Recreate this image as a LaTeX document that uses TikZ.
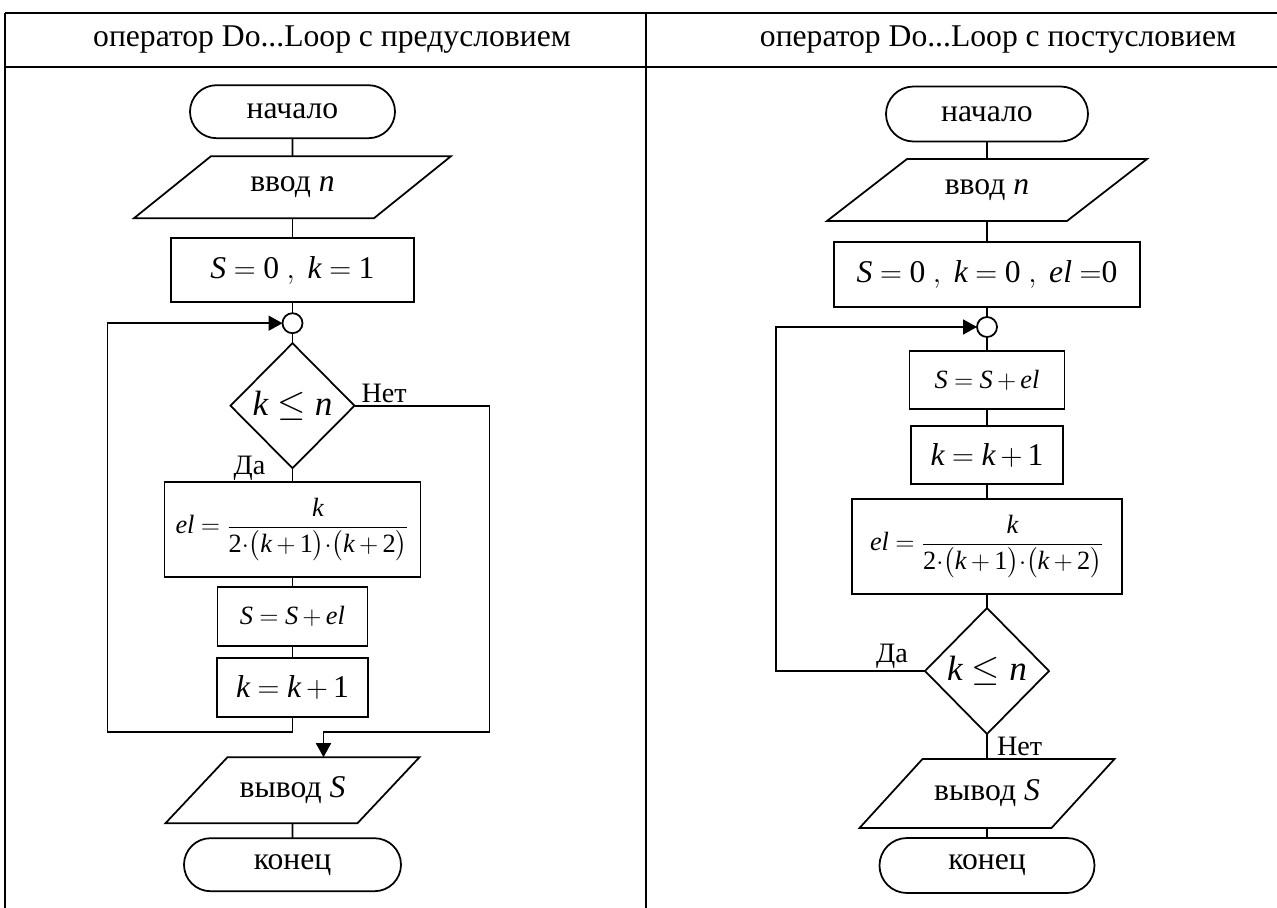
\documentclass[tikz,border=0pt]{standalone}
\usepackage{amsmath}
\usepackage{mathspec}
\setmainfont{Liberation Serif}
\setmathsfont(Digits,Latin)[Scale=1]{Liberation Serif}
\usetikzlibrary{arrows.meta,positioning,shapes.geometric,shapes.misc}
\medmuskip=3mu plus 1mu minus 1mu
\thickmuskip=4.5mu plus 2mu

\begin{document}
\begin{tikzpicture}[
    x=0.2mm, y=-0.2mm,
    font=\fontsize{18}{21}\selectfont,
    termbox/.style={rounded rectangle, draw, line width=1pt, minimum width=41mm, minimum height=10.6mm, inner sep=0pt, outer sep=0pt},
    iobox/.style={rectangle, minimum height=12.4mm, inner sep=0pt, outer sep=0pt},
    stepbox/.style={rectangle, draw, line width=1pt, inner sep=0pt, outer sep=0pt},
    condbox/.style={diamond, draw, line width=1pt, minimum width=24.8mm, minimum height=25mm, inner sep=0pt, outer sep=0pt, font=\fontsize{20}{23}\selectfont},
    joint/.style={circle, draw, line width=1pt, minimum size=4mm, inner sep=0pt, outer sep=0pt},
    lbl/.style={inner sep=1pt, font=\fontsize{16}{18}\selectfont},
    line/.style={line width=1pt},
    arrow/.style={line width=1pt, -{Triangle[length=2.8mm,width=3mm]}},
    tbl/.style={line width=0.7pt},
]
\useasboundingbox (0,0) rectangle (1277,908);

% Table
\draw[tbl] (5,13) -- (1277,13);
\draw[tbl] (5,67) -- (1277,67);
\draw[tbl] (5,13) -- (5,908);
\draw[tbl] (646,13) -- (646,908);
\node (head1) at (332,40) {оператор Do...Loop с предусловием};
\node (head2) at (998,40) {оператор Do...Loop с постусловием};

% Pre-condition loop
\node[termbox] (start1) at (292.5,111.7) {начало};
\node[iobox, minimum width=63.4mm, below=3.6mm of start1] (in1) {ввод $n$};
\node[stepbox, minimum width=48.6mm, minimum height=12.8mm, below=4mm of in1] (init1) {$S=0\;,\;k=1$};
\node[joint, below=2.2mm of init1] (join1) {};
\node[condbox, below=2mm of join1] (cond1) {$k\le n$};
\node[stepbox, minimum width=51.2mm, minimum height=19mm, below=2.8mm of cond1, font=\fontsize{15}{18}\selectfont] (el1) {$el=\dfrac{k}{2{\cdot}\bigl(k+1\bigr){\cdot}\bigl(k+2\bigr)}$};
\node[stepbox, minimum width=30mm, minimum height=11.8mm, below=2mm of el1, font=\fontsize{15}{18}\selectfont] (sum1) {$S=S+el$};
\node[stepbox, minimum width=30.2mm, minimum height=11.8mm, below=2.4mm of sum1] (inc1) {$k=k+1$};
\node[iobox, minimum width=50.8mm, minimum height=13.2mm, below=8mm of inc1] (out1) {вывод $S$};
\node[termbox, minimum width=43.4mm, below=3mm of out1] (end1) {конец};

% parallelogram frames
\draw[line] ([xshift=15.4mm]in1.north west) -- (in1.north east) -- ([xshift=-15.4mm]in1.south east) -- (in1.south west) -- cycle;
\draw[line] ([xshift=12.4mm]out1.north west) -- (out1.north east) -- ([xshift=-12.4mm]out1.south east) -- (out1.south west) -- cycle;

\coordinate (bot1) at ([yshift=-3mm]inc1.south);
\coordinate (lft1) at ([xshift=-35mm]join1.west);
\coordinate (out1top) at ([xshift=6.2mm]out1.north);

\draw[line] (start1) -- (in1);
\draw[line] (in1) -- (init1);
\draw[line] (init1) -- (join1);
\draw[line] (join1) -- (cond1);
\draw[line] (cond1) -- (el1);
\draw[line] (el1) -- (sum1);
\draw[line] (sum1) -- (inc1);
\draw[arrow] (inc1.south) -- (bot1) -| (lft1) -- (join1.west);
\draw[arrow] (cond1.east) -- node[lbl, above, pos=0.22] {Нет} ++(27mm,0) |- (bot1 -| out1top) -- (out1top);
\draw[line] (out1) -- (end1);
\node[lbl, anchor=east] at ([xshift=-5mm]cond1.south) {Да};

% Post-condition loop
\node[termbox, minimum width=40.4mm, minimum height=11mm] (start2) at (987,114) {начало};
\node[iobox, minimum width=64mm, below=3.5mm of start2] (in2) {ввод $n$};
\node[stepbox, minimum width=61.2mm, minimum height=13mm, below=4.2mm of in2] (init2) {$S=0\;,\;k=0\;,\;el\;{=}0$};
\node[joint, below=2mm of init2] (join2) {};
\node[stepbox, minimum width=31mm, minimum height=11.6mm, below=2.8mm of join2, font=\fontsize{15}{18}\selectfont] (sum2) {$S=S+el$};
\node[stepbox, minimum width=30.4mm, minimum height=11.6mm, below=3.4mm of sum2] (inc2) {$k=k+1$};
\node[stepbox, minimum width=54mm, minimum height=19mm, below=3mm of inc2, font=\fontsize{15}{18}\selectfont] (el2) {$el=\dfrac{k}{2{\cdot}\bigl(k+1\bigr){\cdot}\bigl(k+2\bigr)}$};
\node[condbox, minimum height=25.2mm, below=2.8mm of el2] (cond2) {$k\le n$};
\node[iobox, minimum width=51mm, minimum height=13.8mm, below=5mm of cond2] (out2) {вывод $S$};
\node[termbox, minimum width=43mm, minimum height=11mm, below=2mm of out2] (end2) {конец};

% parallelogram frames
\draw[line] ([xshift=16mm]in2.north west) -- (in2.north east) -- ([xshift=-16mm]in2.south east) -- (in2.south west) -- cycle;
\draw[line] ([xshift=12.6mm]out2.north west) -- (out2.north east) -- ([xshift=-12.6mm]out2.south east) -- (out2.south west) -- cycle;

\coordinate (lft2) at ([xshift=-40.2mm]join2.west);

\draw[line] (start2) -- (in2);
\draw[line] (in2) -- (init2);
\draw[line] (init2) -- (join2);
\draw[line] (join2) -- (sum2);
\draw[line] (sum2) -- (inc2);
\draw[line] (inc2) -- (el2);
\draw[line] (el2) -- (cond2);
\draw[arrow] (cond2.west) -| (lft2) -- (join2.west);
\draw[line] (cond2) -- node[lbl, right=1.5mm] {Нет} (out2);
\draw[line] (out2) -- (end2);
\node[lbl, anchor=south east] at ([xshift=-3mm]cond2.west) {Да};

\end{tikzpicture}
\end{document}
